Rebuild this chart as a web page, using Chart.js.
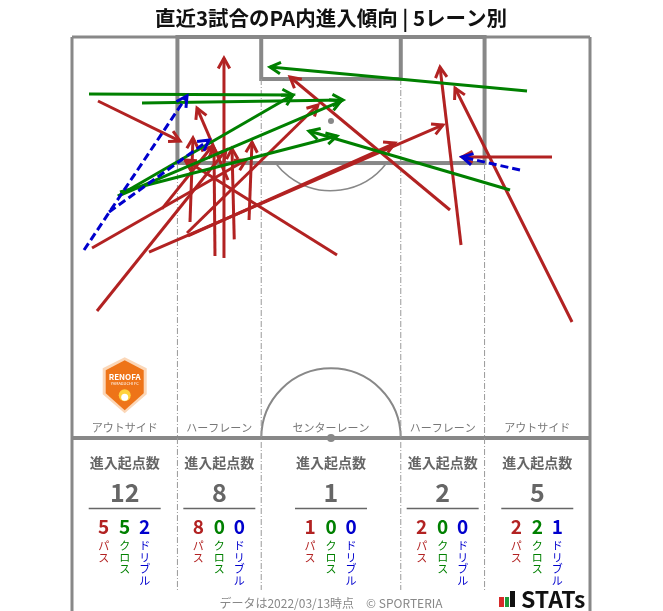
<!DOCTYPE html>
<html>
<head>
<meta charset="utf-8">
<script src="https://cdn.jsdelivr.net/npm/chart.js@4.4.1/dist/chart.umd.min.js"></script>
<style>
  body { margin: 0; background: #fff; }
  #wrap { width: 663px; height: 611px; position: relative; }
</style>
</head>
<body>
<div id="wrap"><canvas id="pitch"></canvas></div>
<script>
const FONT = '"Noto Sans CJK JP", "Noto Sans", sans-serif';

const laneNames = ['アウトサイド', 'ハーフレーン', 'センターレーン', 'ハーフレーン', 'アウトサイド'];
const laneEdges = [0, 13.84, 24.84, 43.16, 54.16, 68];
const laneTotal = [12, 8, 1, 2, 5];
const lanePass = [5, 8, 1, 2, 2];
const laneCross = [5, 0, 0, 0, 2];
const laneDribble = [2, 0, 0, 0, 1];

// [x0, y0, x1, y1] in metres: x across the pitch, y out from the goal line
const passes = [
  [3.41, 8.38, 14.18, 13.62],
  [2.63, 27.62, 22.84, 16.10],
  [3.28, 35.87, 20.22, 14.79],
  [10.11, 28.15, 48.70, 11.52],
  [11.8, 22.5, 18.4, 14.3],
  [19.95, 28.93, 19.95, 2.75],
  [18.77, 28.67, 18.64, 14.53],
  [15.49, 24.22, 15.88, 13.22],
  [23.24, 23.96, 23.63, 13.75],
  [15.10, 25.66, 32.29, 8.90],
  [15.23, 26.05, 42.40, 13.88],
  [20.48, 18.72, 16.41, 9.30],
  [21.3, 26.5, 21.0, 14.6],
  [34.79, 28.54, 14.83, 16.10],
  [49.62, 22.65, 28.62, 5.24],
  [51.07, 27.23, 48.31, 3.93],
  [65.64, 37.31, 50.28, 6.68],
  [63.01, 15.71, 51.20, 15.71]
];
const crosses = [
  [2.23, 7.46, 29.00, 7.60],
  [9.19, 8.64, 35.58, 8.25],
  [6.04, 20.82, 29.00, 7.60],
  [6.04, 20.82, 35.31, 8.38],
  [6.30, 20.29, 34.79, 12.96],
  [59.73, 7.07, 25.99, 3.93],
  [57.50, 20.03, 31.11, 12.31]
];
const dribbles = [
  [1.58, 27.89, 15.10, 7.72],
  [4.86, 22.91, 17.98, 13.49],
  [58.81, 17.41, 51.20, 15.71]
];

const RED = '#b22222', GREEN = '#008000', BLUE = '#0000cd', LINE = '#888';

const makeSet = (list, color, dash, order) => list.map(a => ({
  data: [{ x: a[0], y: a[1] }, { x: a[2], y: a[3] }],
  showLine: true,
  borderColor: color,
  borderWidth: 3,
  borderDash: dash,
  pointRadius: 0,
  order
}));

const datasets = [
  ...makeSet(passes, RED, [], 3),
  ...makeSet(crosses, GREEN, [], 2),
  ...makeSet(dribbles, BLUE, [8, 4], 1)
];

const pitchLines = {
  id: 'pitchLines',
  beforeDatasetsDraw(chart) {
    const { ctx, scales: { x, y } } = chart;
    const px = v => x.getPixelForValue(v), py = v => y.getPixelForValue(v);
    const seg = (x0, y0, x1, y1) => {
      ctx.beginPath(); ctx.moveTo(px(x0), py(y0)); ctx.lineTo(px(x1), py(y1)); ctx.stroke();
    };
    ctx.save();
    ctx.strokeStyle = LINE;
    ctx.lineCap = 'butt';
    // outer lines
    ctx.lineWidth = 3;
    seg(0, 0, 0, 75.2); seg(68, 0, 68, 75.2); seg(0, 0, 68, 0);
    ctx.lineWidth = 4;
    seg(0, 52.5, 68, 52.5);
    // penalty and goal areas
    ctx.strokeRect(px(13.84), py(0), px(54.16) - px(13.84), py(16.5) - py(0));
    ctx.strokeRect(px(24.84), py(0), px(43.16) - px(24.84), py(5.5) - py(0));
    // arcs
    const r = px(9.15) - px(0);
    const a = Math.asin((py(16.5) - py(11)) / r);
    ctx.lineWidth = 1.5;
    ctx.beginPath(); ctx.arc(px(34), py(11), r, a, Math.PI - a); ctx.stroke();
    ctx.lineWidth = 2;
    ctx.beginPath(); ctx.arc(px(34), py(52.5), r, Math.PI, 2 * Math.PI); ctx.stroke();
    ctx.fillStyle = LINE;
    ctx.beginPath(); ctx.arc(px(34), py(11), 3, 0, 2 * Math.PI); ctx.fill();
    ctx.beginPath(); ctx.arc(px(34), py(52.5), 4, 0, 2 * Math.PI); ctx.fill();
    // lane dividers
    ctx.strokeStyle = '#999';
    ctx.lineWidth = 1;
    ctx.setLineDash([6, 2, 1, 2]);
    seg(13.84, 16.5, 13.84, 72.4); seg(54.16, 16.5, 54.16, 72.4);
    seg(24.84, 5.5, 24.84, 72.4); seg(43.16, 5.5, 43.16, 72.4);
    ctx.restore();
  }
};

const arrowHeads = {
  id: 'arrowHeads',
  afterDatasetDraw(chart, args) {
    const { ctx } = chart;
    const pts = args.meta.data;
    const ds = chart.data.datasets[args.index];
    const p0 = pts[0], p1 = pts[1];
    const ang = Math.atan2(p1.y - p0.y, p1.x - p0.x);
    const len = 12, spread = 0.5;
    ctx.save();
    ctx.strokeStyle = ds.borderColor;
    ctx.lineWidth = 3;
    ctx.lineJoin = 'miter';
    ctx.beginPath();
    ctx.moveTo(p1.x - len * Math.cos(ang - spread), p1.y - len * Math.sin(ang - spread));
    ctx.lineTo(p1.x, p1.y);
    ctx.lineTo(p1.x - len * Math.cos(ang + spread), p1.y - len * Math.sin(ang + spread));
    ctx.stroke();
    ctx.restore();
  }
};

const laneText = {
  id: 'laneText',
  afterDraw(chart) {
    const { ctx, scales: { x, y } } = chart;
    const px = v => x.getPixelForValue(v), py = v => y.getPixelForValue(v);
    ctx.save();
    ctx.textAlign = 'center';
    ctx.textBaseline = 'middle';

    // club badge
    const bx = px(6.92), by = py(45.6);
    ctx.fillStyle = '#fbd7b8';
    ctx.beginPath();
    ctx.moveTo(bx, by - 28); ctx.lineTo(bx + 22, by - 17); ctx.lineTo(bx + 22, by + 9);
    ctx.lineTo(bx, by + 28); ctx.lineTo(bx - 22, by + 9); ctx.lineTo(bx - 22, by - 17);
    ctx.closePath(); ctx.fill();
    ctx.fillStyle = '#ee7418';
    ctx.beginPath();
    ctx.moveTo(bx, by - 25); ctx.lineTo(bx + 19, by - 15); ctx.lineTo(bx + 19, by + 8);
    ctx.lineTo(bx, by + 25); ctx.lineTo(bx - 19, by + 8); ctx.lineTo(bx - 19, by - 15);
    ctx.closePath(); ctx.fill();
    ctx.fillStyle = '#fff';
    ctx.font = 'bold 8px ' + FONT;
    ctx.fillText('RENOFA', bx, by - 8);
    ctx.font = '4px ' + FONT;
    ctx.fillText('YAMAGUCHI FC', bx, by - 2);
    ctx.fillStyle = '#ffd33d';
    ctx.beginPath(); ctx.arc(bx, by + 10, 6, 0, 2 * Math.PI); ctx.fill();
    ctx.fillStyle = '#fff';
    ctx.beginPath(); ctx.arc(bx, by + 12, 3.5, 0, 2 * Math.PI); ctx.fill();

    for (let i = 0; i < 5; i++) {
      const cx = px((laneEdges[i] + laneEdges[i + 1]) / 2);
      ctx.fillStyle = '#777';
      ctx.font = '11px ' + FONT;
      ctx.fillText(laneNames[i], cx, 428);
      ctx.fillStyle = '#666';
      ctx.font = 'bold 14px ' + FONT;
      ctx.fillText('進入起点数', cx, 463);
      ctx.font = 'bold 25px ' + FONT;
      ctx.fillText(String(laneTotal[i]), cx, 492);
      ctx.strokeStyle = '#666';
      ctx.lineWidth = 1.5;
      ctx.beginPath(); ctx.moveTo(cx - 36, 508.5); ctx.lineTo(cx + 36, 508.5); ctx.stroke();

      const parts = [
        [lanePass[i], RED, 'パス', -21],
        [laneCross[i], GREEN, 'クロス', 0],
        [laneDribble[i], BLUE, 'ドリブル', 20]
      ];
      parts.forEach(([n, col, label, dx]) => {
        ctx.fillStyle = col;
        ctx.font = 'bold 19px ' + FONT;
        ctx.fillText(String(n), cx + dx, 527);
        ctx.font = '11px ' + FONT;
        [...label].forEach((ch, k) => ctx.fillText(ch, cx + dx, 546 + k * 11.5));
      });
    }

    ctx.fillStyle = '#888';
    ctx.font = '12px ' + FONT;
    ctx.fillText('データは2022/03/13時点　© SPORTERIA', 331, 603);

    // STATs mark
    ctx.fillStyle = '#d62a2a'; ctx.fillRect(499, 597, 5, 10);
    ctx.fillStyle = '#1e9a3a'; ctx.fillRect(505, 597, 4, 10);
    ctx.fillStyle = '#111'; ctx.fillRect(510, 591, 5, 16);
    ctx.font = 'bold 23px ' + FONT;
    ctx.textAlign = 'left';
    ctx.fillText('STATs', 521, 599);
    ctx.restore();
  }
};

new Chart(document.getElementById('pitch'), {
  type: 'scatter',
  data: { datasets },
  options: {
    responsive: true,
    maintainAspectRatio: false,
    animation: false,
    events: [],
    layout: { padding: { left: 72, right: 73, top: 0, bottom: 0 } },
    scales: {
      x: { type: 'linear', min: 0, max: 68, display: false },
      y: { type: 'linear', min: 0, max: 75.15, reverse: true, display: false }
    },
    plugins: {
      legend: { display: false },
      tooltip: { enabled: false },
      title: {
        display: true,
        text: '直近3試合のPA内進入傾向 | 5レーン別',
        color: '#111',
        font: { family: FONT, size: 20.5, weight: 'bold', lineHeight: 1.2 },
        padding: { top: 6, bottom: 6.4 }
      }
    }
  },
  plugins: [pitchLines, arrowHeads, laneText]
});
</script>
</body>
</html>
